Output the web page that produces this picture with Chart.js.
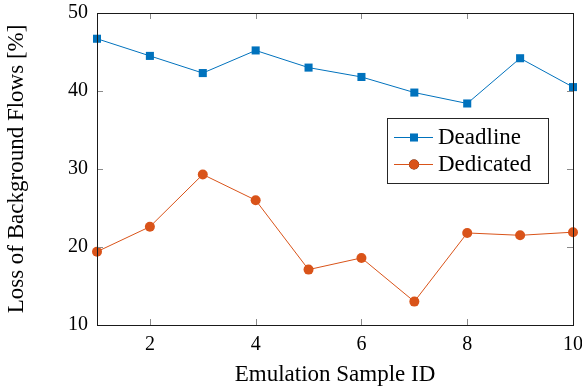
<!DOCTYPE html>
<html>
<head>
<meta charset="utf-8">
<script src="https://cdn.jsdelivr.net/npm/chart.js@4/dist/chart.umd.min.js"></script>
<style>
  html, body { margin: 0; padding: 0; background: #ffffff; }
  #wrap { width: 582px; height: 391px; }
</style>
</head>
<body>
<div id="wrap"><canvas id="lossChart" width="582" height="391"></canvas></div>
<script>
// 數據
const sampleIds = [1, 2, 3, 4, 5, 6, 7, 8, 9, 10];
const deadlineLoss = [46.7, 44.5, 42.3, 45.2, 43.0, 41.8, 39.8, 38.4, 44.2, 40.5];
const dedicatedLoss = [19.4, 22.6, 29.3, 26.0, 17.1, 18.6, 13.0, 21.8, 21.5, 21.9];
const xTickValues = [2, 4, 6, 8, 10];
const yTickValues = [10, 20, 30, 40, 50];

const BLUE = "#0072BD";
const ORANGE = "#D95319";
const FONT = "'Liberation Serif', 'Times New Roman', serif";

// 外框與內側刻度
const framePlugin = {
    id: "frame",
    afterDraw(chart) {
        const { ctx, chartArea: a, scales } = chart;
        ctx.save();
        ctx.strokeStyle = "#8a8a8a";
        ctx.lineWidth = 1;
        const len = 6;
        scales.x.ticks.forEach(t => {
            const px = Math.round(scales.x.getPixelForValue(t.value)) + 0.5;
            ctx.beginPath();
            ctx.moveTo(px, a.bottom); ctx.lineTo(px, a.bottom - len);
            ctx.moveTo(px, a.top); ctx.lineTo(px, a.top + len);
            ctx.stroke();
        });
        scales.y.ticks.forEach(t => {
            const py = Math.round(scales.y.getPixelForValue(t.value)) + 0.5;
            ctx.beginPath();
            ctx.moveTo(a.left, py); ctx.lineTo(a.left + len, py);
            ctx.moveTo(a.right, py); ctx.lineTo(a.right - len, py);
            ctx.stroke();
        });
        ctx.strokeStyle = "#1a1a1a";
        ctx.strokeRect(Math.round(a.left) + 0.5, Math.round(a.top) + 0.5,
            Math.round(a.right - a.left), Math.round(a.bottom - a.top));
        ctx.restore();
    }
};

// 圖內圖例
const insideLegend = {
    id: "insideLegend",
    afterDraw(chart) {
        const { ctx, chartArea: a } = chart;
        const x0 = a.right - 186, y0 = a.top + 105, w = 161, h = 65;
        ctx.save();
        ctx.fillStyle = "#ffffff";
        ctx.fillRect(x0, y0, w, h);
        ctx.strokeStyle = "#262626";
        ctx.lineWidth = 1;
        ctx.strokeRect(x0 + 0.5, y0 + 0.5, w, h);
        chart.data.datasets.forEach((ds, i) => {
            const cy = y0 + 19 + i * 27;
            ctx.strokeStyle = ds.borderColor;
            ctx.lineWidth = 1;
            ctx.beginPath();
            ctx.moveTo(x0 + 7, cy + 0.5);
            ctx.lineTo(x0 + 46, cy + 0.5);
            ctx.stroke();
            Chart.helpers.drawPoint(ctx, {
                pointStyle: ds.pointStyle,
                radius: ds.pointRadius,
                borderWidth: 0
            }, x0 + 27, cy + 0.5);
            ctx.fillStyle = ds.pointBackgroundColor;
            ctx.fill();
            ctx.fillStyle = "#000000";
            ctx.font = "23px " + FONT;
            ctx.textBaseline = "middle";
            ctx.textAlign = "left";
            ctx.fillText(ds.label, x0 + 51, cy + 1);
        });
        ctx.restore();
    }
};

const ctx = document.getElementById("lossChart").getContext("2d");
new Chart(ctx, {
    type: "line",
    data: {
        datasets: [
            {
                label: "Deadline",
                data: sampleIds.map((id, i) => ({ x: id, y: deadlineLoss[i] })),
                borderColor: BLUE,
                backgroundColor: BLUE,
                pointBackgroundColor: BLUE,
                pointBorderColor: BLUE,
                borderWidth: 1,
                pointStyle: "rect",
                pointRadius: 5.7,
                pointBorderWidth: 0,
                tension: 0
            },
            {
                label: "Dedicated",
                data: sampleIds.map((id, i) => ({ x: id, y: dedicatedLoss[i] })),
                borderColor: ORANGE,
                backgroundColor: ORANGE,
                pointBackgroundColor: ORANGE,
                pointBorderColor: ORANGE,
                borderWidth: 1,
                pointStyle: "circle",
                pointRadius: 5,
                pointBorderWidth: 0,
                tension: 0
            }
        ]
    },
    options: {
        responsive: false,
        animation: false,
        clip: false,
        layout: { padding: { top: 13, right: 9, left: 0, bottom: 0 } },
        plugins: {
            legend: { display: false },
            tooltip: { enabled: false }
        },
        scales: {
            x: {
                type: "linear",
                min: 1,
                max: 10,
                afterBuildTicks: scale => { scale.ticks = xTickValues.map(v => ({ value: v })); },
                afterFit: scale => {
                    scale.height = 66;
                    scale.paddingLeft = 0;
                    scale.paddingRight = 0;
                },
                grid: { display: false, drawTicks: false },
                border: { display: false },
                ticks: { color: "#000", font: { family: FONT, size: 20 }, padding: 8 },
                title: {
                    display: true,
                    text: "Emulation Sample ID",
                    color: "#000",
                    font: { family: FONT, size: 23 },
                    padding: { bottom: 2 }
                }
            },
            y: {
                min: 10,
                max: 50,
                afterBuildTicks: scale => { scale.ticks = yTickValues.map(v => ({ value: v })); },
                afterFit: scale => {
                    scale.width = 97;
                    scale.paddingTop = 0;
                    scale.paddingBottom = 0;
                },
                grid: { display: false, drawTicks: false },
                border: { display: false },
                ticks: { color: "#000", font: { family: FONT, size: 20 }, padding: 9 },
                title: {
                    display: true,
                    text: "Loss of Background Flows [%]",
                    color: "#000",
                    font: { family: FONT, size: 23 },
                    padding: { top: 3 }
                }
            }
        }
    },
    plugins: [framePlugin, insideLegend]
});
</script>
</body>
</html>
